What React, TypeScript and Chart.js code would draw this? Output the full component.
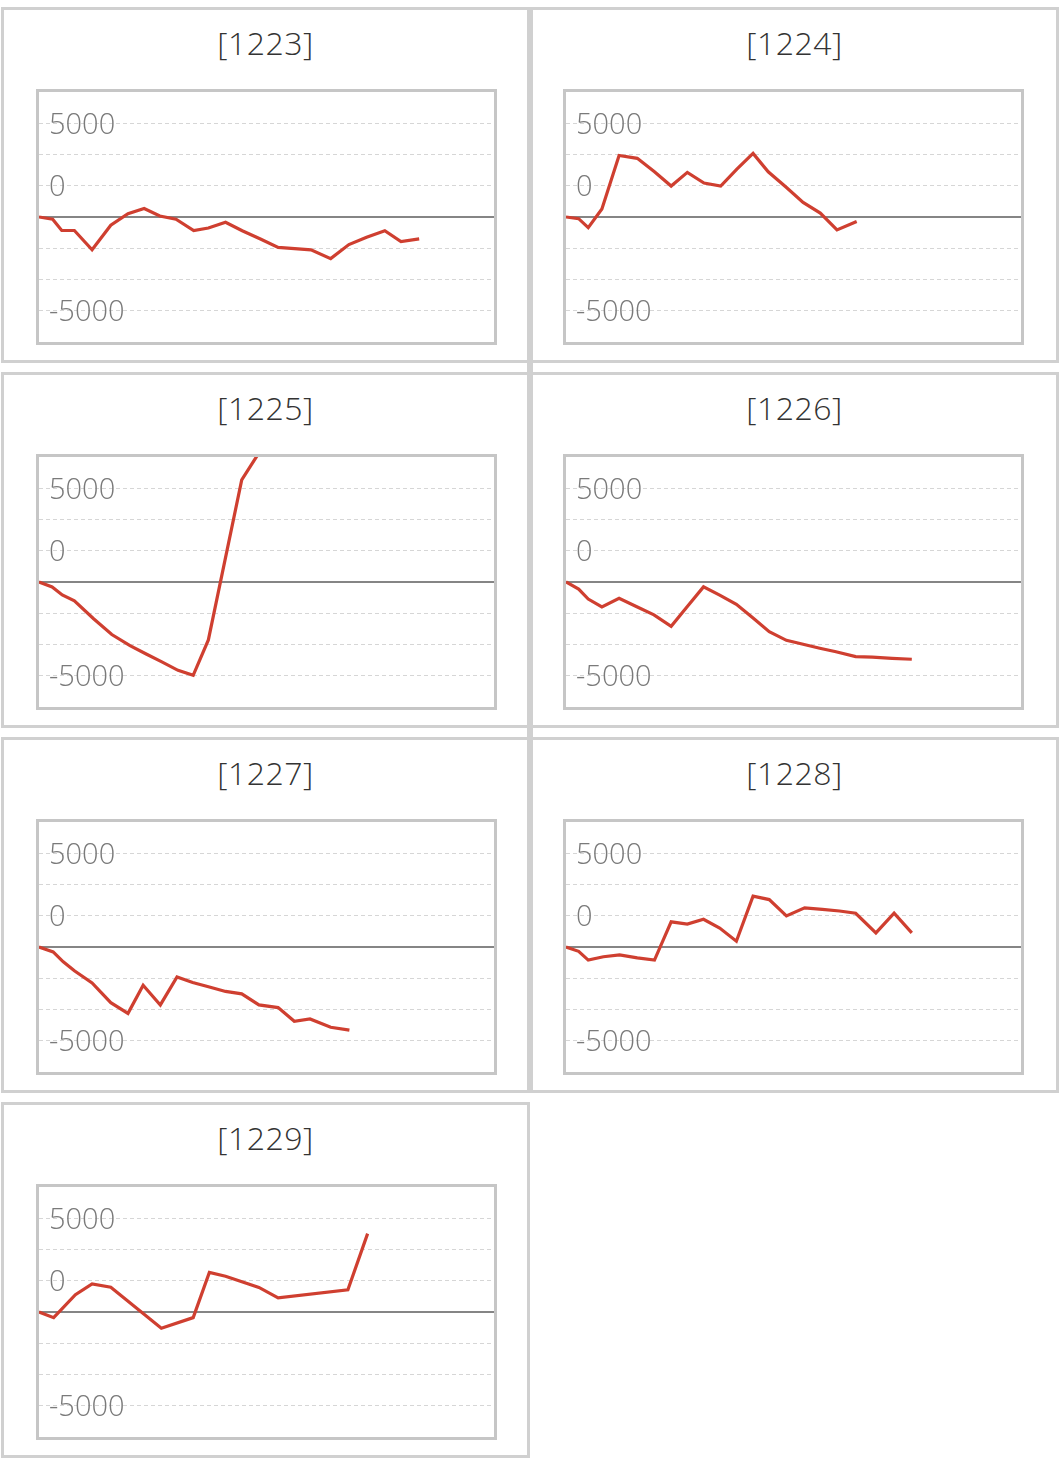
import React, { useEffect, useRef } from 'react';
import { Chart, registerables } from 'chart.js';

Chart.register(...registerables);

// ---- data (x = game count, y = coin difference) ----
const TITLES = ['[1223]', '[1224]', '[1225]', '[1226]', '[1227]', '[1228]', '[1229]'];

const X_1223 = [0, 270, 450, 700, 1050, 1420, 1760, 2080, 2390, 2710, 3060, 3350, 3690, 4020, 4380, 4730, 5380, 5770, 6130, 6480, 6840, 7160, 7520];
const Y_1223 = [0, -120, -720, -720, -1750, -440, 180, 450, 50, -120, -730, -590, -280, -730, -1170, -1620, -1750, -2220, -1470, -1080, -730, -1310, -1170];

const X_1224 = [0, 250, 440, 710, 1050, 1410, 1750, 2080, 2400, 2730, 3060, 3380, 3700, 4000, 4350, 4690, 5030, 5360, 5750];
const Y_1224 = [0, -90, -570, 430, 3280, 3130, 2410, 1650, 2380, 1810, 1650, 2550, 3390, 2410, 1600, 780, 210, -690, -240];

const X_1225 = [0, 260, 460, 700, 1080, 1440, 1800, 2120, 2420, 2750, 3050, 3350, 4010, 4330];
const Y_1225 = [0, -260, -690, -1010, -1960, -2800, -3390, -3840, -4250, -4710, -4980, -3090, 5450, 6800];

const X_1226 = [0, 250, 440, 710, 1050, 1390, 1740, 2080, 2400, 2720, 3040, 3370, 3700, 4020, 4360, 4690, 5020, 5340, 5730, 6060, 6450, 6840];
const Y_1226 = [0, -380, -910, -1330, -870, -1310, -1750, -2360, -1310, -260, -700, -1190, -1920, -2650, -3110, -3320, -3530, -3720, -3980, -4010, -4070, -4120];

const X_1227 = [0, 280, 480, 700, 1050, 1420, 1760, 2060, 2400, 2730, 3040, 3370, 3690, 4010, 4350, 4730, 5050, 5360, 5770, 6140];
const Y_1227 = [0, -260, -790, -1270, -1920, -2970, -3540, -2040, -3090, -1600, -1890, -2130, -2370, -2500, -3090, -3230, -3960, -3840, -4280, -4430];

const X_1228 = [0, 250, 440, 740, 1060, 1410, 1750, 2080, 2400, 2720, 3040, 3370, 3700, 4020, 4360, 4720, 5070, 5410, 5730, 6130, 6490, 6840];
const Y_1228 = [0, -230, -700, -520, -420, -580, -700, 1340, 1220, 1480, 1010, 310, 2710, 2530, 1660, 2090, 2010, 1920, 1800, 750, 1800, 750];

const X_1229 = [0, 290, 720, 1050, 1420, 2420, 3050, 3370, 3690, 4350, 4730, 6110, 6500];
const Y_1229 = [0, -300, 920, 1500, 1320, -870, -300, 2110, 1910, 1310, 750, 1180, 4180];

const SERIES_X = [X_1223, X_1224, X_1225, X_1226, X_1227, X_1228, X_1229];
const SERIES_Y = [Y_1223, Y_1224, Y_1225, Y_1226, Y_1227, Y_1228, Y_1229];

const X_MIN = 0;
const X_MAX = 9000;
const Y_MIN = -6666.67;
const Y_MAX = 6666.67;
const Y_GRID_VALUES = [-5000, -3333.33, -1666.67, 0, 1666.67, 3333.33, 5000];
const Y_LABEL_AT = [5000, 1666.67, -5000];
const Y_LABEL_TEXT = ['5000', '0', '-5000'];

// ---- styles ----
const FONT = "'Open Sans', 'Noto Sans', sans-serif";
const LINE_COLOR = '#cf3f30';
const PANEL_BORDER = '#d0d0d0';
const BOX_BORDER = '#c6c6c6';

const PANEL_TOP0 = 7;
const ROW_STEP = 365;
const PANEL_H = 356;
const PANEL_LEFT = [1, 530];
const PANEL_W = 529;
const BOX_LEFT = [36, 563];
const BOX_TOP0 = 89;
const BOX_W = 461;
const BOX_H = 256;
const BOX_BW = 3;

function MiniChart({ idx }: { idx: number }) {
  const ref = useRef<HTMLCanvasElement | null>(null);
  useEffect(() => {
    if (!ref.current) return;
    const xs = SERIES_X[idx];
    const ys = SERIES_Y[idx];
    const chart = new Chart(ref.current, {
      type: 'line',
      data: {
        datasets: [
          {
            data: xs.map((x, i) => ({ x, y: ys[i] })),
            borderColor: LINE_COLOR,
            borderWidth: 3.2,
            pointRadius: 0,
            tension: 0,
            fill: false,
            order: 1,
          },
          {
            data: [
              { x: X_MIN, y: 0 },
              { x: X_MAX, y: 0 },
            ],
            borderColor: '#858585',
            borderWidth: 2,
            pointRadius: 0,
            fill: false,
            order: 2,
          },
        ],
      },
      options: {
        animation: false,
        responsive: false,
        events: [],
        layout: { padding: 0 },
        plugins: { legend: { display: false }, tooltip: { enabled: false }, title: { display: false } },
        scales: {
          x: { type: 'linear', min: X_MIN, max: X_MAX, display: false },
          y: {
            type: 'linear',
            min: Y_MIN,
            max: Y_MAX,
            afterBuildTicks: (scale: any) => {
              scale.ticks = Y_GRID_VALUES.map((value) => ({ value }));
            },
            afterFit: (scale: any) => {
              scale.width = 0;
              scale.paddingTop = 0;
              scale.paddingBottom = 0;
            },
            border: { display: false, dash: [4, 3] },
            grid: { color: '#d6d6d6', lineWidth: 1, drawTicks: false },
            ticks: {
              mirror: true,
              padding: 10,
              labelOffset: 2,
              autoSkip: false,
              color: '#7a7a7a',
              font: { family: FONT, size: 29, weight: '300' as any },
              callback: (value: any) => {
                const v = Number(value);
                const i = Y_LABEL_AT.findIndex((a) => Math.abs(a - v) < 1);
                return i >= 0 ? Y_LABEL_TEXT[i] : '';
              },
            },
          },
        },
      },
    } as any);
    return () => chart.destroy();
  }, [idx]);
  return (
    <canvas
      ref={ref}
      width={BOX_W - 2 * BOX_BW}
      height={BOX_H - 2 * BOX_BW}
      style={{ display: 'block' }}
    />
  );
}

export default function App() {
  return (
    <div
      style={{
        position: 'absolute',
        left: 0,
        top: 0,
        width: 1060,
        height: 1467,
        background: '#fff',
        fontFamily: FONT,
      }}
    >
      <div
        style={{
          position: 'absolute',
          left: 527,
          top: PANEL_TOP0,
          width: 6,
          height: ROW_STEP * 2 + PANEL_H,
          background: PANEL_BORDER,
        }}
      />
      {TITLES.map((title, i) => {
        const row = Math.floor(i / 2);
        const col = i % 2;
        const top = PANEL_TOP0 + row * ROW_STEP;
        return (
          <React.Fragment key={title}>
            <div
              style={{
                position: 'absolute',
                left: PANEL_LEFT[col],
                top,
                width: PANEL_W,
                height: PANEL_H,
                border: `3px solid ${PANEL_BORDER}`,
                boxSizing: 'border-box',
                background: '#fff',
              }}
            />
            <div
              style={{
                position: 'absolute',
                left: PANEL_LEFT[col],
                top: top + 16,
                width: PANEL_W,
                height: 40,
                lineHeight: '40px',
                textAlign: 'center',
                fontSize: 32,
                fontWeight: 300,
                letterSpacing: 0.5,
                color: '#333',
              }}
            >
              {title}
            </div>
            <div
              style={{
                position: 'absolute',
                left: BOX_LEFT[col],
                top: BOX_TOP0 + row * ROW_STEP,
                width: BOX_W,
                height: BOX_H,
                border: `${BOX_BW}px solid ${BOX_BORDER}`,
                boxSizing: 'border-box',
                background: '#fff',
              }}
            >
              <MiniChart idx={i} />
            </div>
          </React.Fragment>
        );
      })}
    </div>
  );
}
